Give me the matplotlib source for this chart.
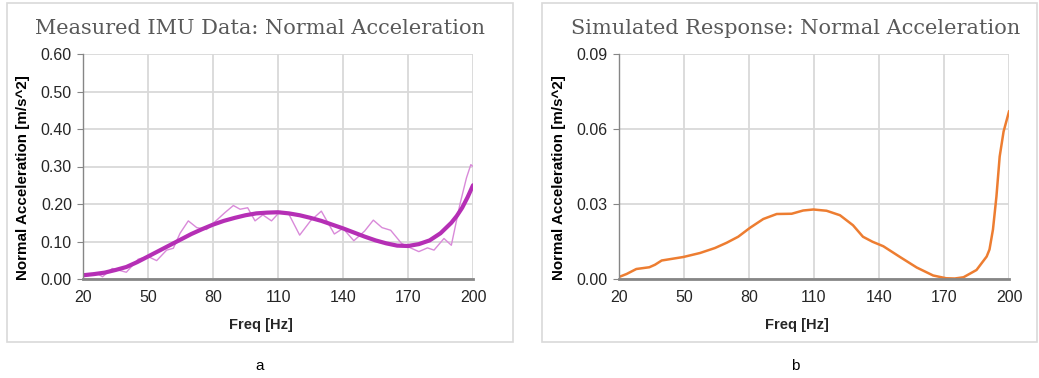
import matplotlib.pyplot as plt
from matplotlib.patches import Rectangle

# measured IMU data (thin line) and its trend (thick line)
meas_freq = [20, 23, 26, 29, 33.5, 40, 45.5, 50, 54, 58.6, 61.7, 64.8, 68.6, 72.5, 77,
             81.7, 85.5, 89.4, 92.5, 96, 99.4, 103, 107, 111, 115, 120, 125, 130, 136,
             140, 145, 150, 154, 158, 162, 167, 170, 175, 179, 182, 186.6, 190, 194,
             197, 199, 200]
meas_acc = [0.006, 0.010, 0.017, 0.006, 0.028, 0.018, 0.053, 0.060, 0.049, 0.077, 0.082,
            0.122, 0.155, 0.137, 0.132, 0.157, 0.177, 0.196, 0.186, 0.190, 0.155, 0.171,
            0.155, 0.180, 0.173, 0.117, 0.155, 0.181, 0.120, 0.135, 0.102, 0.128, 0.157,
            0.137, 0.130, 0.095, 0.086, 0.073, 0.083, 0.077, 0.108, 0.090, 0.200, 0.270,
            0.305, 0.300]

trend_freq = [20, 25, 30, 35, 40, 45, 50, 55, 60, 65, 70, 75, 80, 85, 90, 95, 100, 105,
              110, 115, 120, 125, 130, 135, 140, 145, 150, 155, 160, 165, 170, 175, 180,
              185, 190, 192.5, 195, 197.5, 200]
trend_acc = [0.010, 0.013, 0.017, 0.024, 0.032, 0.045, 0.060, 0.075, 0.090, 0.105, 0.120,
             0.133, 0.145, 0.155, 0.163, 0.170, 0.175, 0.177, 0.178, 0.175, 0.170, 0.163,
             0.155, 0.145, 0.135, 0.124, 0.113, 0.103, 0.095, 0.089, 0.088, 0.093, 0.103,
             0.122, 0.150, 0.168, 0.190, 0.218, 0.250]

# simulated response
sim_freq = [20, 23.5, 28, 34, 36.6, 39.7, 49.7, 57.4, 64.3, 69.7, 75, 80.5, 86.6, 92.8,
            99.7, 105, 109.7, 115.8, 122, 128, 132.6, 137, 142, 149.7, 157.4, 165, 171,
            175, 179, 185, 189.7, 191, 192.6, 194.2, 195.7, 197.5, 200]
sim_acc = [0.0008, 0.002, 0.004, 0.0047, 0.0057, 0.0074, 0.0088, 0.0104, 0.0124, 0.0145,
           0.0169, 0.0205, 0.024, 0.026, 0.0261, 0.0274, 0.0278, 0.0273, 0.0255, 0.0215,
           0.0169, 0.0149, 0.0131, 0.0088, 0.0046, 0.0014, 0.0003, 0.0002, 0.0007, 0.0036,
           0.009, 0.0118, 0.0198, 0.033, 0.049, 0.059, 0.067]

x_ticks = [20, 50, 80, 110, 140, 170, 200]

W, H = 1039, 378
fig = plt.figure(figsize=(W / 100, H / 100), dpi=100)
plt.rcParams['font.family'] = ['Liberation Sans', 'DejaVu Sans']

title_color = '#595959'
grid_color = '#D9D9D9'
axis_color = '#868686'


def px_axes(x0, x1, y_top, y_bot):
    return fig.add_axes([x0 / W, 1 - y_bot / H, (x1 - x0) / W, (y_bot - y_top) / H])


def style_axes(ax, yticks, ylabels):
    ax.set_xlim(20, 200)
    ax.set_ylim(yticks[0], yticks[-1])
    ax.set_xticks(x_ticks)
    ax.set_yticks(yticks)
    ax.set_yticklabels(ylabels)
    ax.grid(True, color=grid_color, linewidth=1.3)
    ax.set_axisbelow(True)
    for s in ['top', 'right']:
        ax.spines[s].set_visible(False)
    ax.spines['left'].set_color(axis_color)
    ax.spines['left'].set_linewidth(1.0)
    ax.spines['bottom'].set_color(axis_color)
    ax.spines['bottom'].set_linewidth(2.0)
    ax.tick_params(axis='y', length=4, color=axis_color, labelsize=11.5, pad=4,
                   labelcolor='#262626')
    ax.tick_params(axis='x', length=0, labelsize=11.5, pad=8, labelcolor='#262626')


# panel frames
fig.patches.append(Rectangle((7 / W, 1 - 342 / H), 506 / W, 339 / H, transform=fig.transFigure,
                             fill=False, edgecolor=grid_color, linewidth=1.2))
fig.patches.append(Rectangle((542 / W, 1 - 342 / H), 495 / W, 339 / H, transform=fig.transFigure,
                             fill=False, edgecolor=grid_color, linewidth=1.2))

# left: measured
ax1 = px_axes(83, 473, 54, 279)
style_axes(ax1, [0, 0.1, 0.2, 0.3, 0.4, 0.5, 0.6],
           ['0.00', '0.10', '0.20', '0.30', '0.40', '0.50', '0.60'])
ax1.plot(meas_freq, meas_acc, color='#D98AD9', linewidth=1.0)
ax1.plot(trend_freq, trend_acc, color='#B52FB5', linewidth=3.0, solid_capstyle='round')

# right: simulated
ax2 = px_axes(619, 1009, 54, 279)
style_axes(ax2, [0, 0.03, 0.06, 0.09], ['0.00', '0.03', '0.06', '0.09'])
ax2.plot(sim_freq, sim_acc, color='#ED7D31', linewidth=1.8)

for cx, name in [(260, 'Measured IMU Data: Normal Acceleration'),
                 (796, 'Simulated Response: Normal Acceleration')]:
    fig.text(cx / W, 1 - 28 / H, name, ha='center', va='center', fontsize=15,
             family='DejaVu Serif', color=title_color)

for lx, fx in [(23, 261), (559, 797)]:
    fig.text(lx / W, 1 - 178 / H, 'Normal Acceleration [m/s^2]', rotation=90, ha='center',
             va='center', fontsize=10.9, fontweight='bold', color='#000000')
    fig.text(fx / W, 1 - 325 / H, 'Freq [Hz]', ha='center', va='center', fontsize=10.5,
             fontweight='bold', color='#262626')

fig.text(260 / W, 1 - 366 / H, 'a', ha='center', va='center', fontsize=11)
fig.text(795 / W, 1 - 366 / H, 'b', ha='center', va='center', fontsize=11)

fig.savefig('out.png', dpi=100, facecolor='white')
